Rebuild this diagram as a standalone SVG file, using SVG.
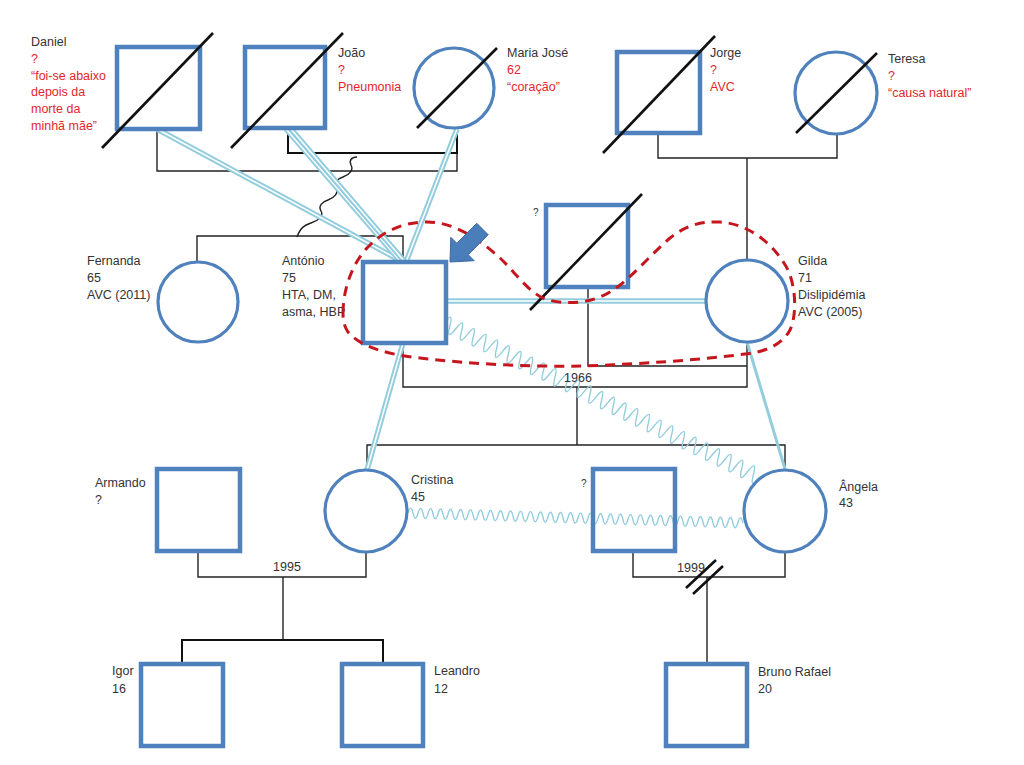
<svg xmlns="http://www.w3.org/2000/svg" xmlns:xlink="http://www.w3.org/1999/xlink" width="1024" height="765" viewBox="0 0 1024 765">
<style>
  text { font-family: "Liberation Sans", Arial, sans-serif; font-size: 12.5px; fill: #333; }
  .red { fill: #e3262b; }
  .sq { fill: #fff; stroke: #4f81bd; stroke-width: 4.5; }
  .ci { fill: #fff; stroke: #4f81bd; stroke-width: 3.2; }
  .dead { stroke: #111; stroke-width: 2.6; }
  .ln { fill: none; stroke: #222; stroke-width: 1.4; }
  .lnb { fill: none; stroke: #111; stroke-width: 2; }
  .outer { fill: none; stroke: #93cddd; stroke-width: 5.5; }
  .inner { fill: none; stroke: #fff; stroke-width: 1.5; }
  .wave { fill: none; stroke: #93cddd; stroke-width: 1.4; }
  .single { fill: none; stroke: #93cddd; stroke-width: 3; }
  .dash { fill: none; stroke: #c5161d; stroke-width: 3; stroke-dasharray: 10 7; }
</style>
<defs>
  <path id="d1" d="M157,129 L403,262"/>
  <path id="d2a" d="M286,129 L401,262"/>
  <path id="d2b" d="M291,129 L405,262"/>
  <path id="d3" d="M457,129 L406,262"/>
  <path id="d4" d="M403,343 L367,470"/>
  <path id="d5" d="M446,301 L707,301"/>
</defs>
<rect width="1024" height="765" fill="#fff"/>

<g id="connectors">
  <!-- top generation -->
  <path class="ln" d="M157,129 V171 H457 V129"/>
  <path class="lnb" d="M288,129 V153 H457 V129"/>
  <path class="ln" d="M658,133 V158 H837 V133"/>
  <path class="ln" d="M747,158 V260"/>
  <path class="ln" d="M197,262 V236 H403 V262"/>
  <path class="ln" d="M357,157 c-6,0 -8,4 -6,8 c3,5 -2,10 -8,12 c-6,2 -10,6 -7,11 c3,5 -2,10 -8,12 c-6,2 -10,6 -7,11 c3,5 -3,10 -10,12 c-5,2 -10,3 -14,14"/>
  <!-- second generation -->
  <path class="ln" d="M588,287 V366 H747"/>
  <path class="ln" d="M403,343 V387 H747 V342"/>
  <path class="ln" d="M577,387 V445"/>
  <path class="ln" d="M367,470 V445 H785 V469"/>
  <!-- third generation -->
  <path class="ln" d="M198,551 V577 H366 V552"/>
  <path class="ln" d="M283,577 V640"/>
  <path class="lnb" d="M182,665 V640 H383 V665"/>
  <path class="ln" d="M633,551 V577 H785 V552"/>
  <path class="ln" d="M707,577 V664"/>
  <path class="dead" d="M686,588 L716,560 M693,594 L723,566"/>
  <!-- emotional relationships -->
  <use href="#d1" class="outer"/><use href="#d1" class="inner"/>
  <use href="#d2a" class="outer"/><use href="#d2a" class="inner"/>
  <use href="#d2b" class="outer"/><use href="#d2b" class="inner"/>
  <use href="#d3" class="outer"/><use href="#d3" class="inner"/>
  <use href="#d4" class="outer"/><use href="#d4" class="inner"/>
  <use href="#d5" class="outer"/><use href="#d5" class="inner"/>
  <path class="single" d="M747,342 L785,469"/>
  <path class="wave" transform="translate(444,323) rotate(26.1)" d="M0,0 q3.25,-16 6.5,0 t6.5,0 t6.5,0 t6.5,0 t6.5,0 t6.5,0 t6.5,0 t6.5,0 t6.5,0 t6.5,0 t6.5,0 t6.5,0 t6.5,0 t6.5,0 t6.5,0 t6.5,0 t6.5,0 t6.5,0 t6.5,0 t6.5,0 t6.5,0 t6.5,0 t6.5,0 t6.5,0 t6.5,0 t6.5,0 t6.5,0 t6.5,0 t6.5,0 t6.5,0 t6.5,0 t6.5,0 t6.5,0 t6.5,0 t6.5,0 t6.5,0 t6.5,0 t6.5,0 t6.5,0 t6.5,0 t6.5,0 t6.5,0 t6.5,0 t6.5,0 t6.5,0 t6.5,0 t6.5,0 t6.5,0 t6.5,0 t6.5,0 t6.5,0 t6.5,0 t6.5,0 t6.5,0"/>
  <path class="wave" transform="translate(408,513) rotate(1.7)" d="M0,0 q2.5,-10 5,0 t5,0 t5,0 t5,0 t5,0 t5,0 t5,0 t5,0 t5,0 t5,0 t5,0 t5,0 t5,0 t5,0 t5,0 t5,0 t5,0 t5,0 t5,0 t5,0 t5,0 t5,0 t5,0 t5,0 t5,0 t5,0 t5,0 t5,0 t5,0 t5,0 t5,0 t5,0 t5,0 t5,0 t5,0 t5,0 t5,0 t5,0 t5,0 t5,0 t5,0 t5,0 t5,0 t5,0 t5,0 t5,0 t5,0 t5,0 t5,0 t5,0 t5,0 t5,0 t5,0 t5,0 t5,0 t5,0 t5,0 t5,0 t5,0 t5,0 t5,0 t5,0 t5,0 t5,0 t5,0 t5,0 t5,0"/>
</g>

<g id="daniel">
  <rect class="sq" x="117" y="47" width="83" height="82"/>
  <line class="dead" x1="102" y1="148" x2="213" y2="33"/>
  <text x="31" y="46">Daniel</text>
  <text class="red" x="31" y="63">?</text>
  <text class="red" x="31" y="80">“foi-se abaixo</text>
  <text class="red" x="31" y="96">depois da</text>
  <text class="red" x="31" y="113">morte da</text>
  <text class="red" x="31" y="130">minhã mãe”</text>
</g>
<g id="joao">
  <rect class="sq" x="245" y="47" width="80" height="81"/>
  <line class="dead" x1="231" y1="148" x2="343" y2="33"/>
  <text x="338" y="57">João</text>
  <text class="red" x="338" y="74">?</text>
  <text class="red" x="338" y="91">Pneumonia</text>
</g>
<g id="maria-jose">
  <circle class="ci" cx="454" cy="88" r="40"/>
  <line class="dead" x1="417" y1="128" x2="497" y2="48"/>
  <text x="507" y="57">Maria José</text>
  <text class="red" x="507" y="74">62</text>
  <text class="red" x="507" y="91">“coração”</text>
</g>
<g id="jorge">
  <rect class="sq" x="617" y="52" width="83" height="81"/>
  <line class="dead" x1="603" y1="153" x2="715" y2="36"/>
  <text x="710" y="57">Jorge</text>
  <text class="red" x="710" y="74">?</text>
  <text class="red" x="710" y="91">AVC</text>
</g>
<g id="teresa">
  <circle class="ci" cx="836" cy="93" r="41"/>
  <line class="dead" x1="796" y1="133" x2="877" y2="53"/>
  <text x="888" y="63">Teresa</text>
  <text class="red" x="888" y="80">?</text>
  <text class="red" x="888" y="97">“causa natural”</text>
</g>
<g id="fernanda">
  <circle class="ci" cx="198" cy="302" r="40"/>
  <text x="87" y="265">Fernanda</text>
  <text x="87" y="282">65</text>
  <text x="87" y="299">AVC (2011)</text>
</g>
<g id="antonio">
  <rect class="sq" x="363" y="262" width="83" height="81"/>
  <text x="282" y="265">António</text>
  <text x="282" y="282">75</text>
  <text x="282" y="299">HTA, DM,</text>
  <text x="282" y="316">asma, HBP</text>
</g>
<g id="unknown-1">
  <rect class="sq" x="546" y="205" width="82" height="82"/>
  <line class="dead" x1="530" y1="310" x2="642" y2="194"/>
  <text x="533" y="216" style="font-size:10px">?</text>
</g>
<g id="gilda">
  <circle class="ci" cx="747" cy="301" r="41"/>
  <text x="798" y="265">Gilda</text>
  <text x="798" y="282">71</text>
  <text x="798" y="299">Dislipidémia</text>
  <text x="798" y="316">AVC (2005)</text>
</g>
<g id="armando">
  <rect class="sq" x="157" y="469" width="83" height="82"/>
  <text x="95" y="487">Armando</text>
  <text x="95" y="504">?</text>
</g>
<g id="cristina">
  <circle class="ci" cx="366" cy="511" r="41"/>
  <text x="411" y="484">Cristina</text>
  <text x="411" y="501">45</text>
</g>
<g id="unknown-2">
  <rect class="sq" x="593" y="469" width="82" height="82" style="fill:none"/>
  <text x="581" y="487" style="font-size:10px">?</text>
</g>
<g id="angela">
  <circle class="ci" cx="785" cy="511" r="41"/>
  <text x="839" y="491">Ângela</text>
  <text x="839" y="507">43</text>
</g>
<g id="igor">
  <rect class="sq" x="141" y="664" width="82" height="82"/>
  <text x="112" y="675">Igor</text>
  <text x="112" y="693">16</text>
</g>
<g id="leandro">
  <rect class="sq" x="342" y="664" width="81" height="82"/>
  <text x="434" y="675">Leandro</text>
  <text x="434" y="693">12</text>
</g>
<g id="bruno">
  <rect class="sq" x="666" y="664" width="81" height="82"/>
  <text x="758" y="676">Bruno Rafael</text>
  <text x="758" y="693">20</text>
</g>

<g id="labels">
  <text x="578" y="382" text-anchor="middle">1966</text>
  <text x="287" y="571" text-anchor="middle">1995</text>
  <text x="691" y="572" text-anchor="middle">1999</text>
</g>

<g id="household">
  <path class="dash" d="M343,313 C343,290 352,262 370,245 C385,230 405,222 427,222 C455,222 480,240 500,258 C515,272 528,292 545,299 C565,305 590,304 610,292 C630,280 650,255 670,238 C685,226 700,221 720,222 C750,224 775,245 788,270 C796,288 797,315 790,330 C782,345 765,352 745,354 C700,360 640,364 583,366 C530,367 470,364 420,358 C390,355 360,347 348,332 C344,326 343,320 343,313 Z"/>
</g>
<g id="index-arrow">
  <polygon points="450,262 450.8,237.3 456.8,243.3 476.8,223.3 488.2,234.7 468.2,254.7 474.2,260.7" fill="#4a7ebb" stroke="#3a68a0" stroke-width="1"/>
</g>
</svg>
